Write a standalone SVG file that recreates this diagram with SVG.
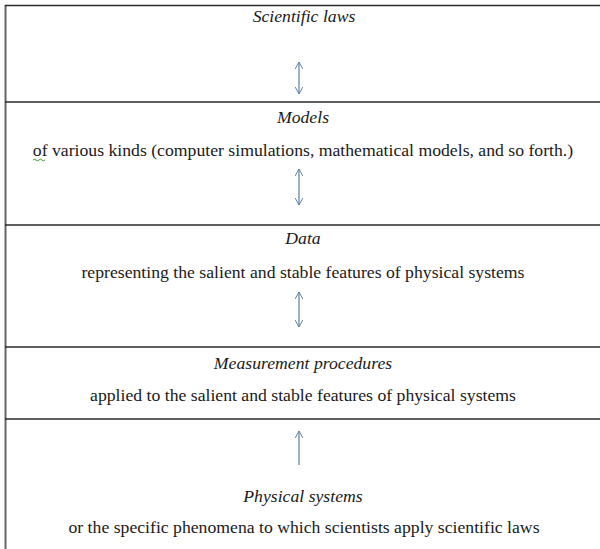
<svg xmlns="http://www.w3.org/2000/svg" width="600" height="549" viewBox="0 0 600 549">
<defs>
<style>
.t{font-family:"Liberation Serif","Times New Roman","DejaVu Serif",serif;font-size:17.7px;fill:#1a1a1a;text-anchor:middle}
.i{font-style:italic}
.div{stroke:#2a2a2a;stroke-width:1.5;fill:none}
.arr{stroke:#5b7ea6;stroke-width:1.2;fill:none}
</style>
<marker id="h" viewBox="0 0 10 10" refX="9" refY="5" markerWidth="8" markerHeight="8" orient="auto-start-reverse" markerUnits="userSpaceOnUse">
<path d="M0,0 L9,5 L0,10" fill="none" stroke="#5b7ea6" stroke-width="1.2"/>
</marker>
</defs>
<rect width="600" height="549" fill="#fff"/>
<g id="frame">
<line x1="5.5" y1="5" x2="5.5" y2="549" stroke="#666" stroke-width="2"/>
<line class="div" x1="5" y1="5.5" x2="600" y2="5.5"/>
<line class="div" x1="5" y1="102" x2="600" y2="102"/>
<line class="div" x1="5" y1="225" x2="600" y2="225"/>
<line class="div" x1="5" y1="347" x2="600" y2="347"/>
<line class="div" x1="5" y1="419" x2="600" y2="419"/>
</g>
<g id="laws">
<text class="t i" x="304" y="22">Scientific  laws</text>
</g>
<g id="models">
<text class="t i" x="303" y="123">Models</text>
<text class="t" x="303" y="156">of various kinds (computer simulations, mathematical models, and so forth.)</text>
<path d="M33,160 q1.5,-1.5 3,0 t3,0 t3,0 t3,0" stroke="#3a9a3a" stroke-width="1" fill="none"/>
</g>
<g id="data">
<text class="t i" x="303" y="244">Data</text>
<text class="t" x="303" y="278">representing the salient and stable features of physical systems</text>
</g>
<g id="measurement">
<text class="t i" x="303" y="369">Measurement procedures</text>
<text class="t" x="303" y="401">applied to the salient and stable features of physical systems</text>
</g>
<g id="physical">
<text class="t i" x="303" y="502">Physical systems</text>
<text class="t" x="304" y="533">or the specific phenomena to which scientists apply scientific laws</text>
</g>
<g id="connectors">
<line class="arr" x1="299" y1="62" x2="299" y2="94" marker-start="url(#h)" marker-end="url(#h)"/>
<line class="arr" x1="299" y1="169" x2="299" y2="205" marker-start="url(#h)" marker-end="url(#h)"/>
<line class="arr" x1="299" y1="292" x2="299" y2="327" marker-start="url(#h)" marker-end="url(#h)"/>
<line class="arr" x1="299" y1="465" x2="299" y2="431" marker-end="url(#h)"/>
</g>
</svg>
